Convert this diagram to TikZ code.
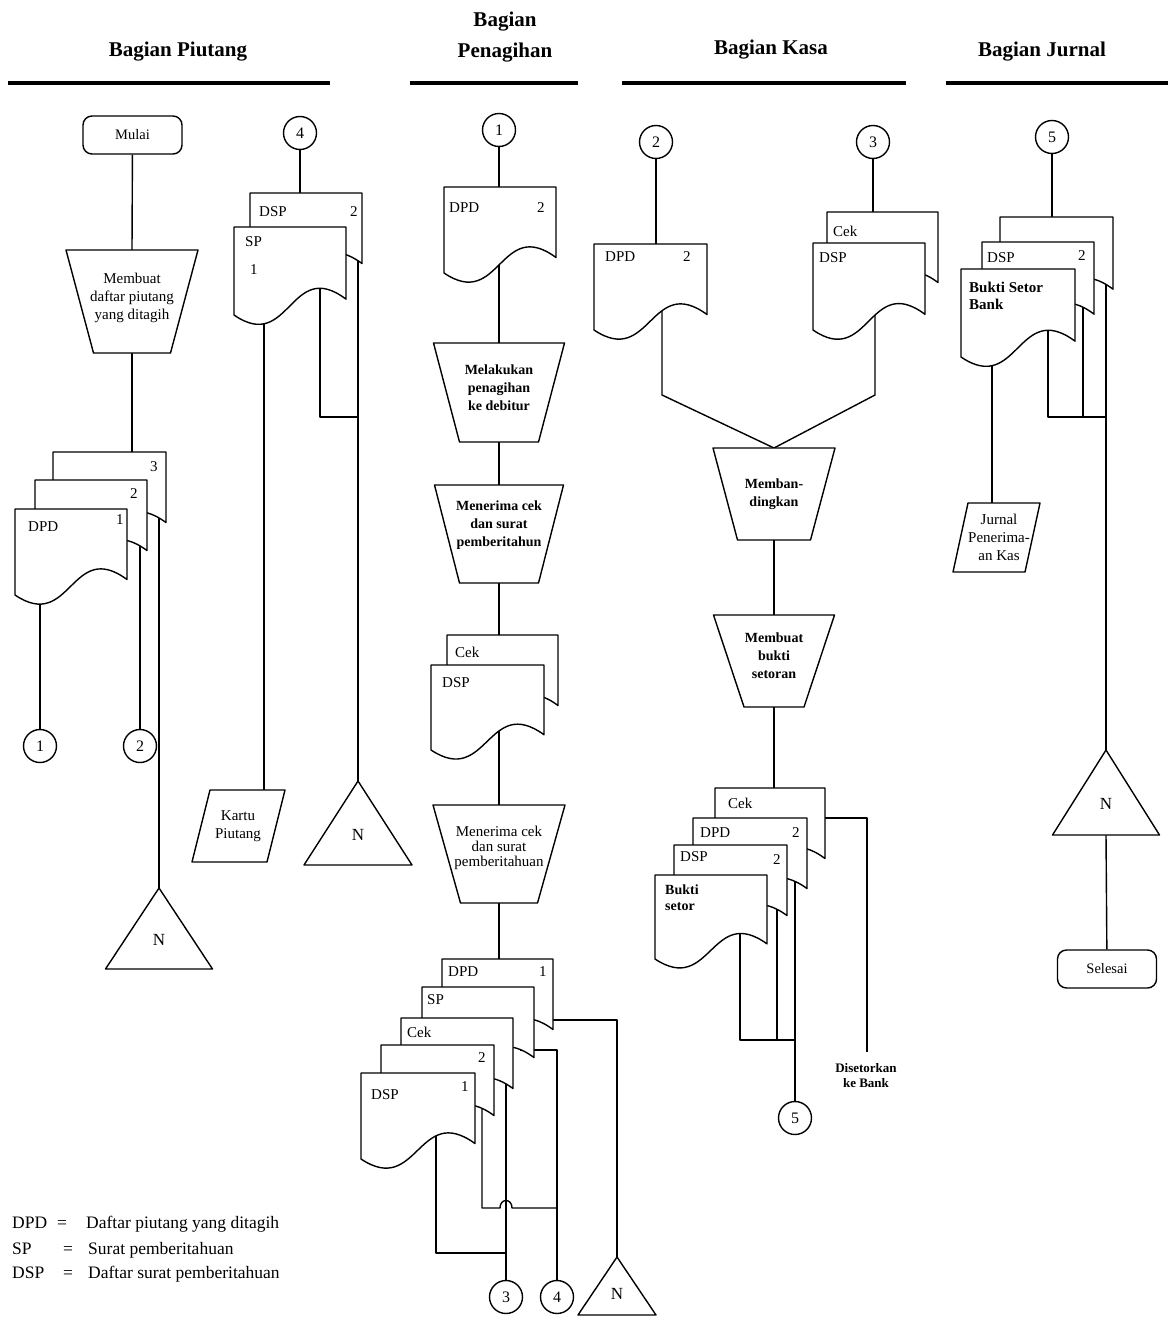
\documentclass[tikz,border=0pt]{standalone}
\usepackage{fontspec}
\setmainfont{Liberation Serif}
\usetikzlibrary{backgrounds}
\newcommand\docshape[4]{\filldraw[docst] (#1,#2) -- ({#1+#3},#2) -- ({#1+#3},{#2+0.82*#4}) .. controls ({#1+0.5*#3},{#2+0.34*#4}) and ({#1+0.5*#3},{#2+1.44*#4}) .. (#1,{#2+#4}) -- cycle;}
\newcommand\procbox[9]{%
 \filldraw[shp] ({#2-#4/2},#3) -- ({#2+#4/2},#3) -- ({#2+#5/2},{#3+#6}) -- ({#2-#5/2},{#3+#6}) -- cycle;
 \node[ptxt,#9] (#1) at (#2,#7) {#8};
 \coordinate (#1-t) at (#2,#3);
 \coordinate (#1-b) at (#2,{#3+#6});}
\newcommand\ntriangle[5]{%
 \filldraw[shp] (#2,#3) -- ({#2+#4/2},{#3+#5}) -- ({#2-#4/2},{#3+#5}) -- cycle;
 \node[ntxt] (#1) at (#2,{#3+0.64*#5}) {N};
 \coordinate (#1-t) at (#2,#3);
 \coordinate (#1-b) at (#2,{#3+#5});}
\newcommand\parabox[8]{%
 \filldraw[shp] (#2,#3) -- (#4,#3) -- ({#4-#5},{#3+#6}) -- ({#2-#5},{#3+#6}) -- cycle;
 \node[ptxt] (#1) at #7 {#8};}
\begin{document}
\begin{tikzpicture}[x=1pt,y=-1pt,
 ln/.style={line width=1.4pt, line join=round},
 docst/.style={fill=white, draw=black, line width=1.4pt, line join=round},
 shp/.style={fill=white, draw=black, line width=1.4pt, line join=round},
 lbl/.style={font=\fontsize{15}{17}\selectfont, inner sep=0pt, anchor=west},
 ptxt/.style={font=\fontsize{15}{18}\selectfont, align=center, inner sep=0pt},
 boldtxt/.style={font=\fontsize{14}{18}\selectfont\bfseries},
 tighttxt/.style={font=\fontsize{15}{15}\selectfont},
 ntxt/.style={font=\fontsize{17}{19}\selectfont, inner sep=0pt},
 conn/.style={circle, draw, fill=white, line width=1.4pt, minimum size=33pt, inner sep=0pt, font=\fontsize{16}{18}\selectfont},
 term/.style={rectangle, rounded corners=9pt, draw, fill=white, line width=1.4pt, minimum width=99pt, minimum height=38pt, inner sep=0pt, font=\fontsize{14.5}{16}\selectfont},
 hdr/.style={font=\fontsize{21}{31}\selectfont\bfseries, align=center, inner sep=0pt},
 uline/.style={line width=3.2pt},
 leg/.style={font=\fontsize{17.5}{19}\selectfont, anchor=base west, inner sep=0pt}]
\useasboundingbox (0,0) rectangle (1170,1321);

% ---------- headers ----------
\node[hdr] (h1) at (178,52) {Bagian Piutang};
\node[hdr] (h2) at (505,37) {Bagian\\Penagihan};
\node[hdr] (h3) at (771,50) {Bagian Kasa};
\node[hdr] (h4) at (1042,52) {Bagian Jurnal};
\draw[uline] (8,83) -- (330,83);
\draw[uline] (410,83) -- (578,83);
\draw[uline] (622,83) -- (906,83);
\draw[uline] (946,83) -- (1168,83);

% ---------- Bagian Piutang ----------
\node[term] (mulai) at (132.5,135) {Mulai};
\procbox{t1}{132}{250}{132}{77}{103}{298}{Membuat\\daftar piutang\\yang ditagih}{}
\docshape{53}{452}{113}{86}
\node[lbl] (pA3l) at (150,467) {3};
\docshape{35}{480}{112}{86}
\node[lbl] (pA2l) at (130,494) {2};
\docshape{15}{509}{112}{86}
\node[lbl] (pA1l) at (28,527) {DPD};
\node[lbl] (pA1n) at (116,520) {1};
\coordinate (pA3-top) at (132,452);
\coordinate (pA1-o) at (40,560);
\coordinate (pA2-o) at (140,530);
\coordinate (pA3-o) at (159,500);
\node[conn] (k1b) at (40,746) {1};
\node[conn] (k2b) at (140,746) {2};
\ntriangle{n1}{159}{888}{107}{81}

\node[conn] (k4p) at (300,133) {4};
\docshape{250}{193}{112}{86}
\node[lbl] (pB2l) at (259,212) {DSP};
\node[lbl] (pB2n) at (350,212) {2};
\docshape{234}{227}{112}{88}
\node[lbl] (pB1l) at (245,242) {SP};
\node[lbl] (pB1n) at (250,270) {1};
\coordinate (pB2-top) at (300,193);
\coordinate (pB2-o) at (358,240);
\coordinate (pB1-o1) at (264,280);
\coordinate (pB1-o2) at (320,270);
\coordinate (pB-j) at (358,417);
\parabox{kartu}{210}{790}{285}{18}{72}{(238,826)}{Kartu\\Piutang}
\coordinate (kartu-t) at (264,790);
\ntriangle{n2}{358}{781}{108}{84}

% ---------- Bagian Penagihan ----------
\node[conn] (k1p) at (499,130) {1};
\docshape{444}{187}{112}{86}
\node[lbl] (qAl) at (449,208) {DPD};
\node[lbl] (qAn) at (537,208) {2};
\coordinate (qA-top) at (499,187);
\coordinate (qA-o) at (499,240);
\procbox{t2}{499}{343}{131}{79}{99}{388}{Melakukan\\penagihan\\ke debitur}{boldtxt}
\procbox{t3}{499}{485}{129}{79}{98}{525}{Menerima cek\\dan surat\\pemberitahun}{boldtxt}
\docshape{447}{635}{111}{86}
\node[lbl] (qB2l) at (455,652) {Cek};
\docshape{431}{665}{113}{85}
\node[lbl] (qB1l) at (442,683) {DSP};
\coordinate (qB2-top) at (499,635);
\coordinate (qB1-o) at (499,710);
\procbox{t4}{499}{805}{132}{77}{98}{848}{Menerima cek\\dan surat\\pemberitahuan}{tighttxt}
\docshape{442}{959}{111}{86}
\node[lbl] (qC1l) at (448,972) {DPD};
\node[lbl] (qC1n) at (539,972) {1};
\docshape{422}{987}{112}{86}
\node[lbl] (qC2l) at (427,1000) {SP};
\docshape{401}{1018}{112}{86}
\node[lbl] (qC3l) at (407,1032) {Cek};
\docshape{381}{1045}{113}{86}
\node[lbl] (qC4n) at (478,1058) {2};
\docshape{361}{1073}{114}{86}
\node[lbl] (qC5l) at (371,1095) {DSP};
\node[lbl] (qC5n) at (461,1087) {1};
\coordinate (qC1-top) at (499,959);
\coordinate (qC1-o) at (540,1020);
\coordinate (qC2-o) at (520,1050);
\coordinate (qC3-o) at (506,1080);
\coordinate (qC4-o) at (482,1105);
\coordinate (qC5-o) at (436,1120);
\coordinate (hl) at (500,1208);
\coordinate (hr) at (512,1208);
\coordinate (qj4) at (557,1208);
\coordinate (qj3) at (506,1253);
\node[conn] (k3b) at (506,1297) {3};
\node[conn] (k4b) at (557,1297) {4};
\ntriangle{n4}{617}{1257}{78}{58}

% ---------- Bagian Kasa ----------
\node[conn] (k2k) at (656,142) {2};
\docshape{594}{244}{113}{86}
\node[lbl] (rAl) at (605,257) {DPD};
\node[lbl] (rAn) at (683,257) {2};
\coordinate (rA-top) at (656,244);
\coordinate (rA-o) at (662,300);
\coordinate (rA-bend) at (662,395);
\node[conn] (k3k) at (873,142) {3};
\docshape{827}{212}{111}{86}
\node[lbl] (rB2l) at (833,231) {Cek};
\docshape{813}{243}{112}{87}
\node[lbl] (rB1l) at (819,258) {DSP};
\coordinate (rB2-top) at (873,212);
\coordinate (rB1-o) at (875,300);
\coordinate (rB-bend) at (875,395);
\procbox{t5}{774}{448}{122}{73}{92}{494}{Memban-\\dingkan}{boldtxt}
\procbox{t6}{774}{615}{121}{60}{92}{656}{Membuat\\bukti\\setoran}{boldtxt}
\docshape{715}{788}{110}{86}
\node[lbl] (sA1l) at (728,803) {Cek};
\docshape{693}{818}{114}{86}
\node[lbl] (sA2l) at (700,833) {DPD};
\node[lbl] (sA2n) at (792,833) {2};
\docshape{674}{845}{113}{86}
\node[lbl] (sA3l) at (680,857) {DSP};
\node[lbl] (sA3n) at (773,860) {2};
\docshape{655}{875}{112}{84}
\node[lbl, align=left, font=\fontsize{14}{16}\selectfont\bfseries] (sA4l) at (665,898) {Bukti\\setor};
\coordinate (sA1-top) at (774,788);
\coordinate (sA1-o) at (800,818);
\coordinate (bank) at (867,818);
\coordinate (bankend) at (867,1052);
\node[ptxt, font=\fontsize{13}{15}\selectfont\bfseries] (dk) at (866,1076) {Disetorkan\\ke Bank};
\coordinate (sA2-o) at (795,875);
\coordinate (sA3-o) at (777,900);
\coordinate (sA3-e) at (777,1040);
\coordinate (sA4-o) at (740,920);
\coordinate (sj) at (795,1040);
\node[conn] (k5k) at (795,1118) {5};

% ---------- Bagian Jurnal ----------
\node[conn] (k5j) at (1052,137) {5};
\docshape{1000}{217}{113}{88}
\docshape{982}{242}{112}{88}
\node[lbl] (uA2l) at (987,258) {DSP};
\node[lbl] (uA2n) at (1078,256) {2};
\docshape{961}{269}{114}{88}
\node[lbl, align=left, font=\fontsize{15}{17}\selectfont\bfseries] (uA1l) at (969,296) {Bukti Setor\\Bank};
\coordinate (uA3-top) at (1052,217);
\coordinate (uA3-o) at (1106,270);
\coordinate (uA2-o) at (1083,295);
\coordinate (uA2-e) at (1083,417);
\coordinate (uA1-o) at (1048,320);
\coordinate (uA1-o2) at (992,340);
\coordinate (uj) at (1106,417);
\parabox{jurnal}{968}{503}{1040}{15}{69}{(999,537)}{Jurnal\\Penerima-\\an Kas}
\coordinate (jurnal-t) at (992,503);
\ntriangle{n3}{1106}{750}{107}{85}
\node[term] (selesai) at (1107,969) {Selesai};

% ---------- legend ----------
\node[leg] (lg1a) at (12,1228) {DPD};
\node[leg] (lg1b) at (57,1228) {=};
\node[leg] (lg1c) at (86,1228) {Daftar piutang yang ditagih};
\node[leg] (lg2a) at (12,1254) {SP};
\node[leg] (lg2b) at (63,1254) {=};
\node[leg] (lg2c) at (88,1254) {Surat pemberitahuan};
\node[leg] (lg3a) at (12,1278) {DSP};
\node[leg] (lg3b) at (63,1278) {=};
\node[leg] (lg3c) at (88,1278) {Daftar surat pemberitahuan};

% ---------- connectors ----------
\begin{scope}[on background layer]
\fill[white] (0,0) rectangle (1170,1321);
\draw[ln] (mulai) -- (t1-t);
\draw[ln] (t1-b) -- (pA3-top);
\draw[ln] (pA1-o) -- (k1b);
\draw[ln] (pA2-o) -- (k2b);
\draw[ln] (pA3-o) -- (n1-t);
\draw[ln] (k4p) -- (pB2-top);
\draw[ln] (pB2-o) -- (n2-t);
\draw[ln] (pB1-o1) -- (kartu-t);
\draw[ln] (pB1-o2) |- (pB-j);
\draw[ln] (k1p) -- (qA-top);
\draw[ln] (qA-o) -- (t2-t);
\draw[ln] (t2-b) -- (t3-t);
\draw[ln] (t3-b) -- (qB2-top);
\draw[ln] (qB1-o) -- (t4-t);
\draw[ln] (t4-b) -- (qC1-top);
\draw[ln] (qC1-o) -| (n4-t);
\draw[ln] (qC2-o) -| (k4b);
\draw[ln] (qC3-o) -- (k3b);
\draw[ln] (qC4-o) |- (hl) .. controls +(0,-10) and +(0,-10) .. (hr) -- (qj4);
\draw[ln] (qC5-o) |- (qj3);
\draw[ln] (k2k) -- (rA-top);
\draw[ln] (rA-o) -- (rA-bend) -- (t5-t);
\draw[ln] (k3k) -- (rB2-top);
\draw[ln] (rB1-o) -- (rB-bend) -- (t5-t);
\draw[ln] (t5-b) -- (t6-t);
\draw[ln] (t6-b) -- (sA1-top);
\draw[ln] (sA1-o) -- (bank) -- (bankend);
\draw[ln] (sA2-o) -- (k5k);
\draw[ln] (sA3-o) -- (sA3-e);
\draw[ln] (sA4-o) |- (sj);
\draw[ln] (k5j) -- (uA3-top);
\draw[ln] (uA3-o) -- (n3-t);
\draw[ln] (uA2-o) -- (uA2-e);
\draw[ln] (uA1-o) |- (uj);
\draw[ln] (uA1-o2) -- (jurnal-t);
\draw[ln] (n3-b) -- (selesai);
\end{scope}
\end{tikzpicture}
\end{document}
